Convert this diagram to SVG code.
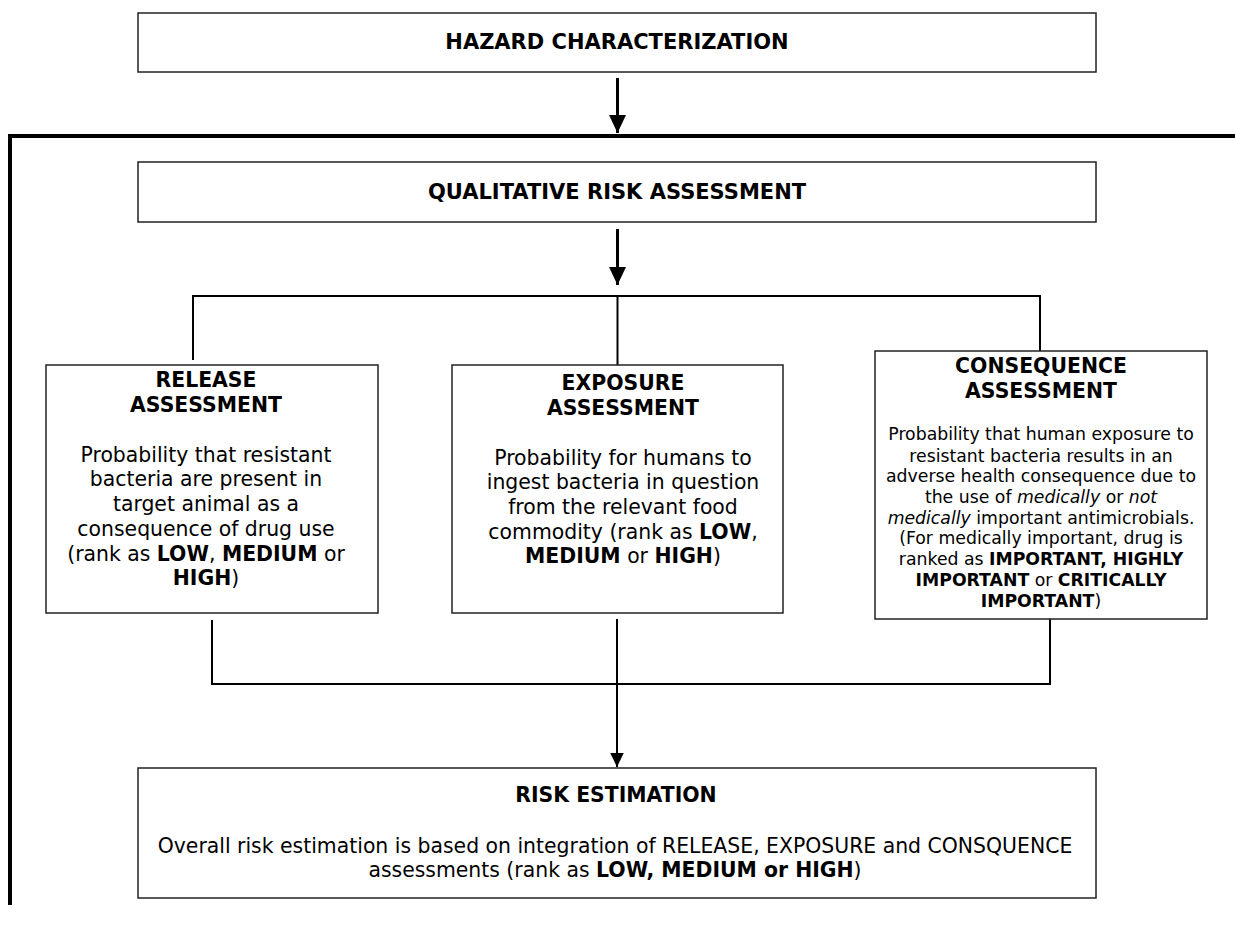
<svg xmlns="http://www.w3.org/2000/svg" width="1235" height="930" viewBox="0 0 1235 930">
<style>
.box{fill:#fff;stroke:#222;stroke-width:1.5}
.t{font-family:"DejaVu Sans",Verdana,sans-serif;font-size:20.4px;fill:#000;text-anchor:middle}
.s{font-size:17.3px}
.h{font-size:21px}
.b{font-weight:bold}
.i{font-style:italic}
.ln{fill:none;stroke:#000;stroke-width:2}
.thick{fill:none;stroke:#000;stroke-width:3}
.frame{fill:none;stroke:#000;stroke-width:4}
</style>
<defs>
<marker id="ah" viewBox="0 0 18 17" refX="18" refY="8.5" markerWidth="18" markerHeight="17" markerUnits="userSpaceOnUse" orient="auto"><path d="M0,0 L18,8.5 L0,17 z" fill="#000"/></marker>
<marker id="ahs" viewBox="0 0 14 13.5" refX="14" refY="6.75" markerWidth="14" markerHeight="13.5" markerUnits="userSpaceOnUse" orient="auto"><path d="M0,0 L14,6.75 L0,13.5 z" fill="#000"/></marker>
</defs>
<g id="connectors">
<path class="frame" d="M10,905 V136 H1235"/>
<line class="thick" x1="617.5" y1="78" x2="617.5" y2="133" marker-end="url(#ah)"/>
<line class="thick" x1="617.5" y1="229" x2="617.5" y2="285" marker-end="url(#ah)"/>
<path class="ln" d="M193,360 V296 H1040 V351"/>
<path class="ln" d="M617.5,296 V365"/>
<path class="ln" d="M212,620 V684 H1050 V619"/>
<line class="ln" x1="617" y1="619" x2="617" y2="767" marker-end="url(#ahs)"/>
</g>
<g id="hazard">
<rect class="box" x="138" y="13" width="958" height="59"/>
<text class="t b h" x="617" y="49">HAZARD CHARACTERIZATION</text>
</g>
<g id="qra">
<rect class="box" x="138" y="162" width="958" height="60"/>
<text class="t b h" x="617" y="199">QUALITATIVE RISK ASSESSMENT</text>
</g>
<g id="release">
<rect class="box" x="46" y="365" width="332" height="248"/>
<text class="t b" x="206" y="387">RELEASE</text>
<text class="t b" x="206" y="412">ASSESSMENT</text>
<text class="t" x="206" y="462">Probability that resistant</text>
<text class="t" x="206" y="486">bacteria are present in</text>
<text class="t" x="206" y="511">target animal as a</text>
<text class="t" x="206" y="536">consequence of drug use</text>
<text class="t" x="206" y="561">(rank as <tspan class="b">LOW</tspan>, <tspan class="b">MEDIUM</tspan> or</text>
<text class="t" x="206" y="585"><tspan class="b">HIGH</tspan>)</text>
</g>
<g id="exposure">
<rect class="box" x="452" y="365" width="331" height="248"/>
<text class="t b" x="623" y="390">EXPOSURE</text>
<text class="t b" x="623" y="415">ASSESSMENT</text>
<text class="t" x="623" y="465">Probability for humans to</text>
<text class="t" x="623" y="489">ingest bacteria in question</text>
<text class="t" x="623" y="514">from the relevant food</text>
<text class="t" x="623" y="539">commodity (rank as <tspan class="b">LOW</tspan>,</text>
<text class="t" x="623" y="563"><tspan class="b">MEDIUM</tspan> or <tspan class="b">HIGH</tspan>)</text>
</g>
<g id="consequence">
<rect class="box" x="875" y="351" width="332" height="268"/>
<text class="t b" x="1041" y="373">CONSEQUENCE</text>
<text class="t b" x="1041" y="398">ASSESSMENT</text>
<text class="t s" x="1041" y="440">Probability that human exposure to</text>
<text class="t s" x="1041" y="461.5">resistant bacteria results in an</text>
<text class="t s" x="1041" y="482">adverse health consequence due to</text>
<text class="t s" x="1041" y="502.5">the use of <tspan class="i">medically</tspan> or <tspan class="i">not</tspan></text>
<text class="t s" x="1041" y="523.5"><tspan class="i">medically</tspan> important antimicrobials.</text>
<text class="t s" x="1041" y="544">(For medically important, drug is</text>
<text class="t s" x="1041" y="565">ranked as <tspan class="b">IMPORTANT, HIGHLY</tspan></text>
<text class="t s" x="1041" y="586"><tspan class="b">IMPORTANT</tspan> or <tspan class="b">CRITICALLY</tspan></text>
<text class="t s" x="1041" y="607"><tspan class="b">IMPORTANT</tspan>)</text>
</g>
<g id="risk">
<rect class="box" x="138" y="768" width="958" height="130"/>
<text class="t b" x="616" y="802">RISK ESTIMATION</text>
<text class="t" x="615" y="853">Overall risk estimation is based on integration of RELEASE, EXPOSURE and CONSQUENCE</text>
<text class="t" x="615" y="877">assessments (rank as <tspan class="b">LOW, MEDIUM or HIGH</tspan>)</text>
</g>
</svg>
